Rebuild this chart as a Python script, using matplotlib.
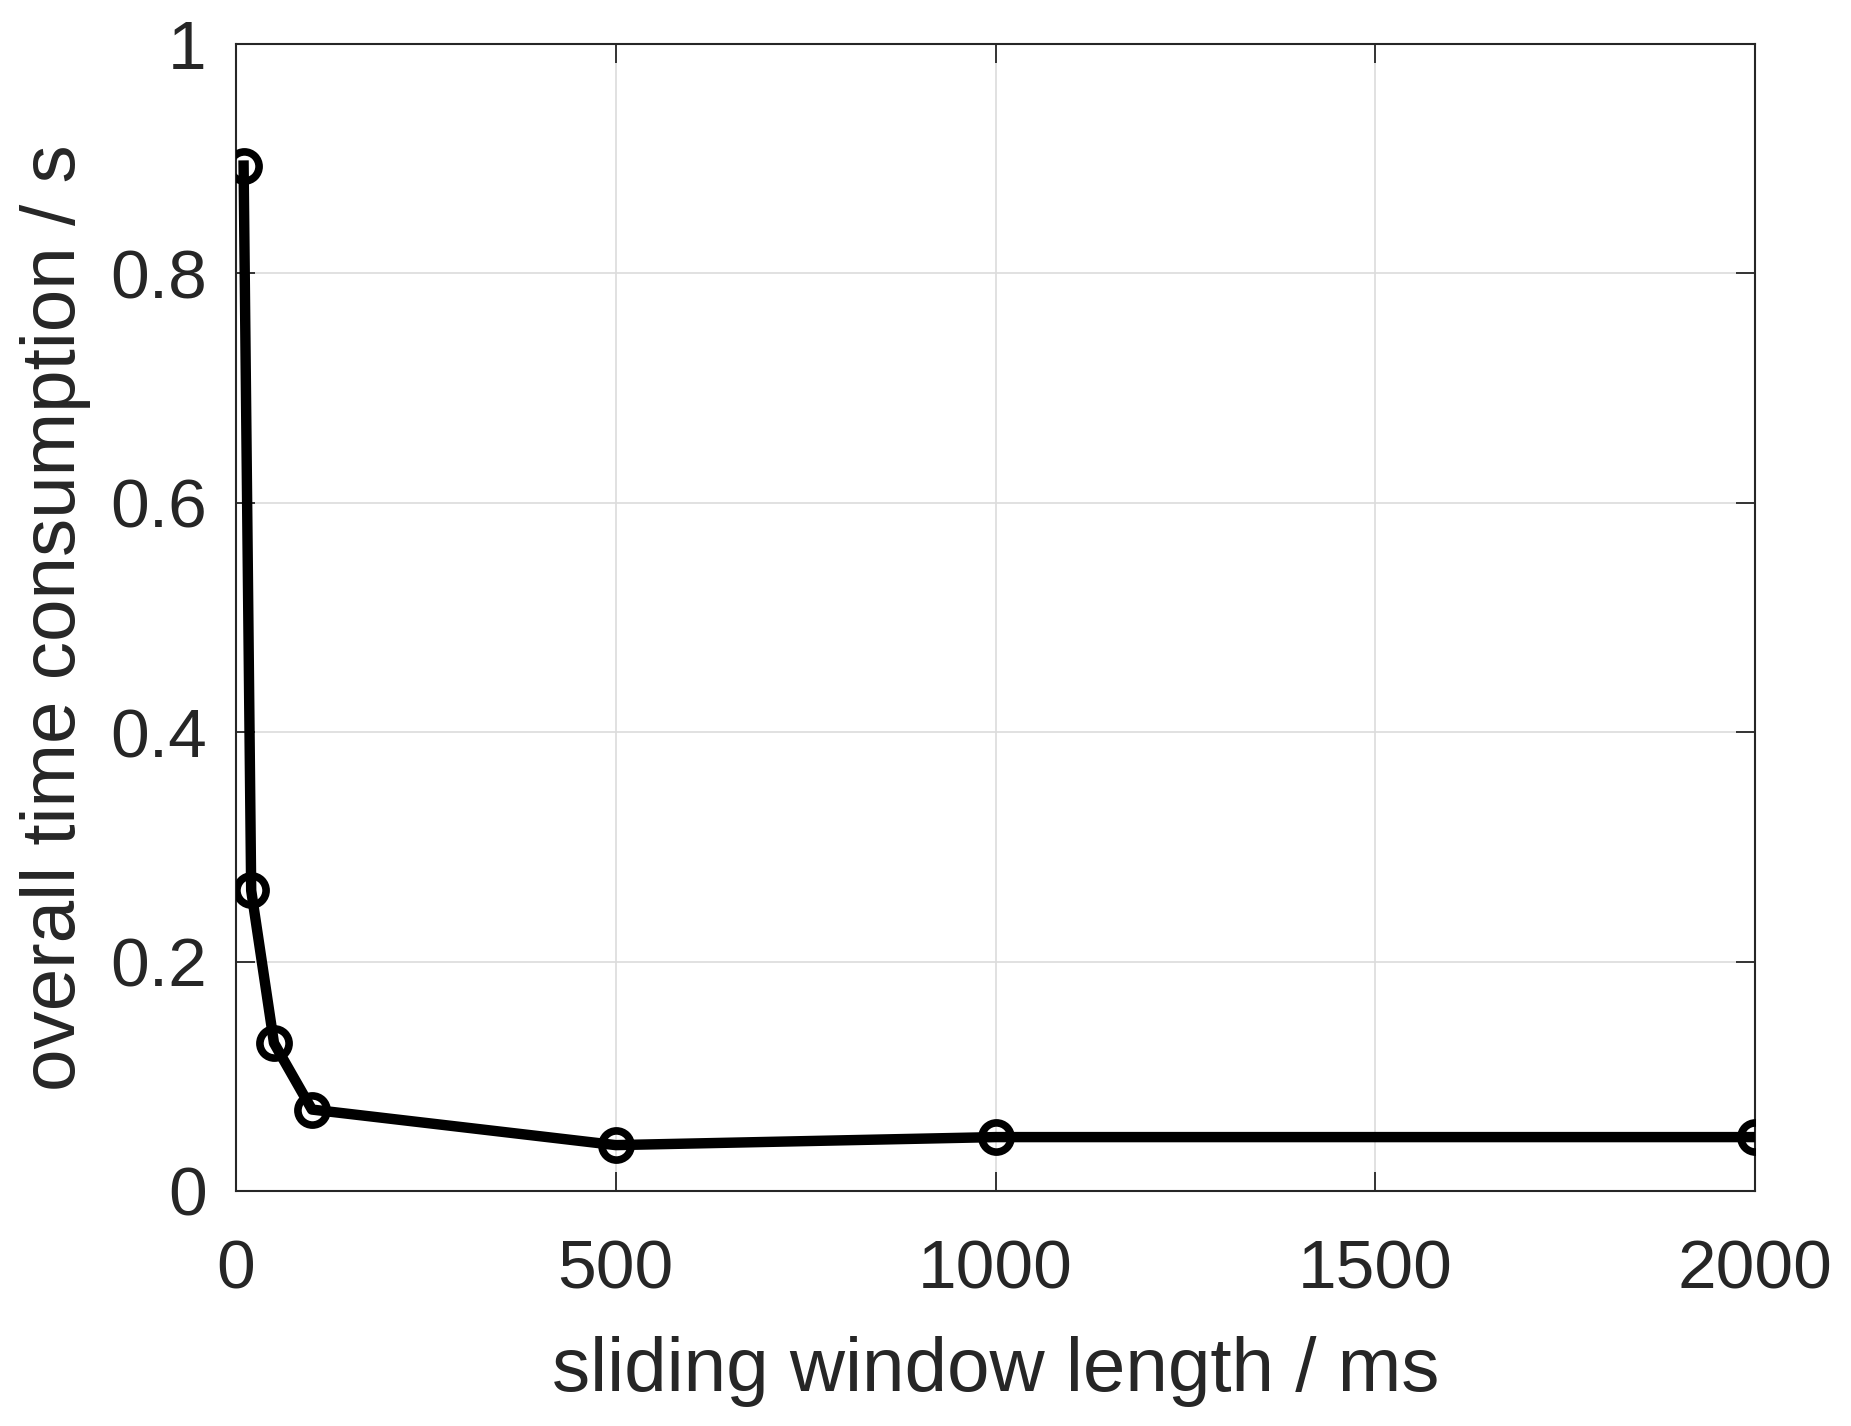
import matplotlib
matplotlib.use("Agg")
import matplotlib.pyplot as plt

window_ms = [10, 20, 50, 100, 500, 1000, 2000]
time_s = [0.894, 0.262, 0.129, 0.071, 0.040, 0.047, 0.047]
xticks = [0, 500, 1000, 1500, 2000]
yticks = [0, 0.2, 0.4, 0.6, 0.8, 1]
yticklabels = ["0", "0.2", "0.4", "0.6", "0.8", "1"]

plt.rcParams['font.family'] = ['Liberation Sans', 'DejaVu Sans']
txt = '#262626'

fig = plt.figure(figsize=(18.51, 14.26), dpi=100)
ax = fig.add_axes([236/1851, 1 - 1191/1426, (1755-236)/1851, (1191-44)/1426])

ax.plot(window_ms, time_s, color='black', linewidth=7.5, marker='o',
        markersize=21, markerfacecolor='none', markeredgecolor='black',
        markeredgewidth=5.5, zorder=3)

ax.set_xlim(0, 2000)
ax.set_ylim(0, 1)
ax.set_xticks(xticks)
ax.set_xticklabels([str(t) for t in xticks])
ax.set_yticks(yticks)
ax.set_yticklabels(yticklabels)
ax.grid(True, color='#dcdcdc', linewidth=1.2)
ax.set_axisbelow(True)
ax.tick_params(direction='in', length=14, width=1.3, colors=txt,
               labelsize=50, top=True, right=True)
ax.tick_params(axis='x', pad=34)
ax.tick_params(axis='y', pad=21)
for s in ax.spines.values():
    s.set_color(txt)
    s.set_linewidth(1.5)

ax.set_xlabel('sliding window length / ms', fontsize=55, color=txt, labelpad=24)
ax.set_ylabel('overall time consumption / s', fontsize=55, color=txt, labelpad=14)

fig.savefig('out.png', dpi=100, facecolor='white')
